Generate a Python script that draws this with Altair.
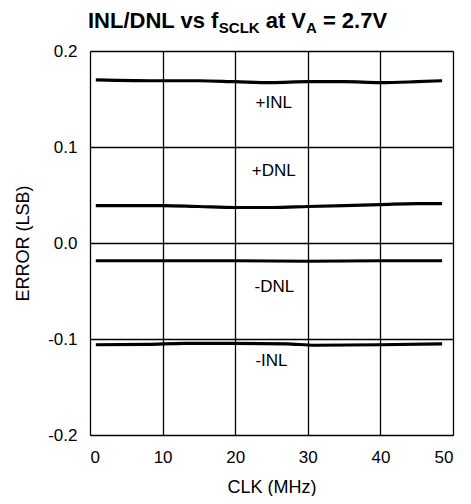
import altair as alt
import pandas as pd

# ---- data ----
pinl_x = [0.8, 10, 15, 20, 25, 30, 35, 40, 45, 48.5]
pinl_y = [0.170, 0.169, 0.169, 0.168, 0.167, 0.168, 0.168, 0.167, 0.168, 0.169]

pdnl_x = [0.8, 10, 15, 20, 25, 30, 35, 40, 45, 48.5]
pdnl_y = [0.039, 0.039, 0.038, 0.037, 0.037, 0.038, 0.039, 0.040, 0.041, 0.041]

ndnl_x = [0.8, 10, 20, 30, 40, 48.5]
ndnl_y = [-0.0185, -0.0185, -0.0185, -0.019, -0.0185, -0.0185]

ninl_x = [0.8, 8, 13, 20, 27, 31, 40, 48.5]
ninl_y = [-0.106, -0.1055, -0.1045, -0.1045, -0.105, -0.1065, -0.106, -0.105]

label_text = ["+INL", "+DNL", "-DNL", "-INL"]
label_x = [25.3, 25.3, 25.4, 25.0]
label_y = [0.146, 0.075, -0.046, -0.123]

x_ticks = [0, 10, 20, 30, 40, 50]
y_ticks = [-0.2, -0.1, 0.0, 0.1, 0.2]

rows = []
for name, xs, ys in [("+INL", pinl_x, pinl_y), ("+DNL", pdnl_x, pdnl_y),
                     ("-DNL", ndnl_x, ndnl_y), ("-INL", ninl_x, ninl_y)]:
    for a, b in zip(xs, ys):
        rows.append({"series": name, "clk": a, "err": b})
df = pd.DataFrame(rows)
lab = pd.DataFrame({"t": label_text, "clk": label_x, "err": label_y})

FONT = "Liberation Sans"
W, H = 363, 384
x_scale = alt.Scale(domain=[0, 50], nice=False, zero=False)
y_scale = alt.Scale(domain=[-0.2, 0.2], nice=False)

x_axis = alt.Axis(values=x_ticks, title="CLK (MHz)", grid=True, ticks=False, tickSize=0,
                  domain=False, labelPadding=27, labelBaseline="alphabetic",
                  labelFontSize=17, labelFont=FONT, labelColor="black",
                  titleFont=FONT, titleFontSize=18, titleFontWeight="normal",
                  titleColor="black", titleY=57, titleBaseline="alphabetic",
                  gridColor="black", gridWidth=1.3, gridOpacity=1, format="d")
y_axis = alt.Axis(values=y_ticks, title="ERROR (LSB)", grid=True, ticks=False, tickSize=0,
                  domain=False, labelPadding=13,
                  labelExpr="datum.value < 0 ? '-' + format(-datum.value, '.1f') : format(datum.value, '.1f')",
                  labelFontSize=17, labelFont=FONT, labelColor="black",
                  titleFont=FONT, titleFontSize=18, titleFontWeight="normal",
                  titleColor="black", titleX=-67, titleY=H / 2, titleAngle=-90,
                  titleAlign="center", titleBaseline="middle",
                  gridColor="black", gridWidth=1.3, gridOpacity=1)

lines = alt.Chart(df).mark_line(color="black", strokeWidth=3.2, interpolate="monotone").encode(
    x=alt.X("clk:Q", scale=x_scale, axis=x_axis),
    y=alt.Y("err:Q", scale=y_scale, axis=y_axis),
    detail="series:N",
)

labels = alt.Chart(lab).mark_text(font=FONT, fontSize=17, color="black",
                                  align="center", baseline="middle").encode(
    x=alt.X("clk:Q", scale=x_scale),
    y=alt.Y("err:Q", scale=y_scale),
    text="t:N",
)

# title pieces (with subscripts)
one = alt.Data(values=[{"a": 1}])
pieces = [("INL/DNL vs f", -2, -23, 22), ("SCLK", 128.8, -18, 15),
          ("at V", 175.7, -23, 22), ("A", 216.0, -18, 15), ("= 2.7V", 232.9, -23, 22)]
title_layers = [
    alt.Chart(one).mark_text(text=t, x=px, y=py, fontSize=fs, font=FONT, fontWeight="bold",
                             color="black", align="left", baseline="alphabetic").encode(
        opacity=alt.value(1))
    for t, px, py, fs in pieces
]

chart = alt.layer(lines, labels, *title_layers).properties(
    width=W, height=H,
    autosize=alt.AutoSizeParams(type="none"),
    padding={"left": 82, "top": 43, "right": 10, "bottom": 61},
).configure_view(stroke="black", strokeWidth=2).configure(background="white")

chart.save("out.html", embed_options={"renderer": "svg", "actions": False})
